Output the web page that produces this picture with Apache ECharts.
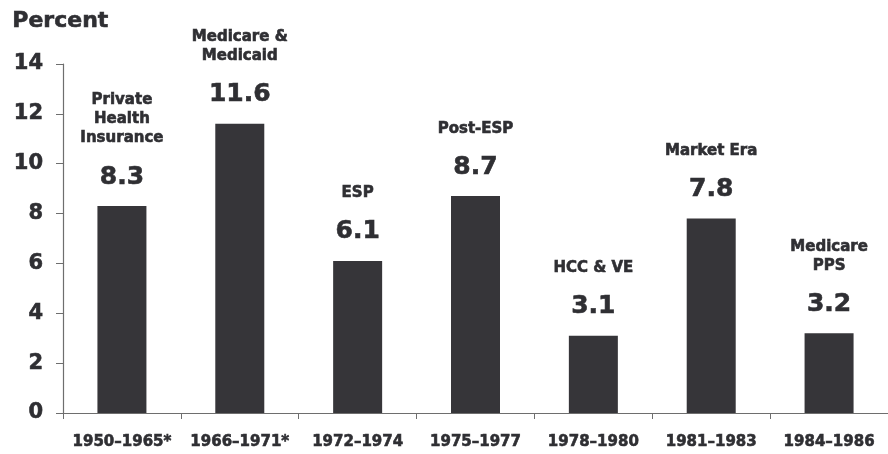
<!DOCTYPE html>
<html>
<head>
<meta charset="utf-8">
<script src="https://cdn.jsdelivr.net/npm/echarts@6/dist/echarts.min.js"></script>
<style>
  html, body { margin: 0; padding: 0; background: #fff; }
  #chart { width: 888px; height: 454px; }
</style>
</head>
<body>
<div id="chart"></div>
<script>
const periods = ['1950–1965*', '1966–1971*', '1972–1974', '1975–1977', '1978–1980', '1981–1983', '1984–1986'];
const eras = ['Private\nHealth\nInsurance', 'Medicare &\nMedicaid', 'ESP', 'Post-ESP', 'HCC & VE', 'Market Era', 'Medicare\nPPS'];
const growth = [8.3, 11.6, 6.1, 8.7, 3.1, 7.8, 3.2];
const yTicks = [0, 2, 4, 6, 8, 10, 12, 14];

const font = 'DejaVu Sans';
const ink = '#2f2f33';
// thin stroke to get closer to the heavy face in the original
const heavy = { textBorderColor: ink, textBorderWidth: 0.6 };

let chart = echarts.init(document.getElementById('chart'));
let option = {
  animation: false,
  grid: { left: 63, top: 64, width: 837, height: 349 },
  graphic: [{
    type: 'text',
    left: 12,
    top: 10,
    style: { text: 'Percent', font: 'bold 22px "DejaVu Sans"', fill: ink, stroke: ink, lineWidth: 0.6 }
  }],
  xAxis: {
    type: 'category',
    data: periods,
    axisLine: { lineStyle: { color: '#6e6e6e', width: 1.2 } },
    axisTick: { show: true, interval: 0, length: 6, lineStyle: { color: '#6e6e6e' } },
    axisLabel: { interval: 0, margin: 22, fontFamily: font, fontWeight: 'bold', fontSize: 15, color: ink, ...heavy }
  },
  yAxis: {
    type: 'value',
    min: yTicks[0],
    max: yTicks[yTicks.length - 1],
    interval: 2,
    splitLine: { show: false },
    axisLine: { show: true, lineStyle: { color: '#6e6e6e', width: 1.2 } },
    axisTick: { show: true, length: 7, lineStyle: { color: '#6e6e6e' } },
    axisLabel: { margin: 20, fontFamily: font, fontWeight: 'bold', fontSize: 21, color: ink, ...heavy }
  },
  series: [{
    type: 'bar',
    data: growth,
    barWidth: 49,
    itemStyle: { color: '#363539' },
    label: {
      show: true,
      position: 'top',
      distance: 14,
      align: 'center',
      formatter: (p) => '{era|' + eras[p.dataIndex] + '}\n{gap| }\n{val|' + p.value.toFixed(1) + '}',
      rich: {
        era: { fontFamily: font, fontWeight: 'bold', fontSize: 15, lineHeight: 19, color: ink, align: 'center', ...heavy },
        gap: { fontSize: 1, lineHeight: 14 },
        val: { fontFamily: font, fontWeight: 'bold', fontSize: 25, lineHeight: 30, color: ink, align: 'center', ...heavy }
      }
    }
  }]
};
chart.setOption(option);
</script>
</body>
</html>
